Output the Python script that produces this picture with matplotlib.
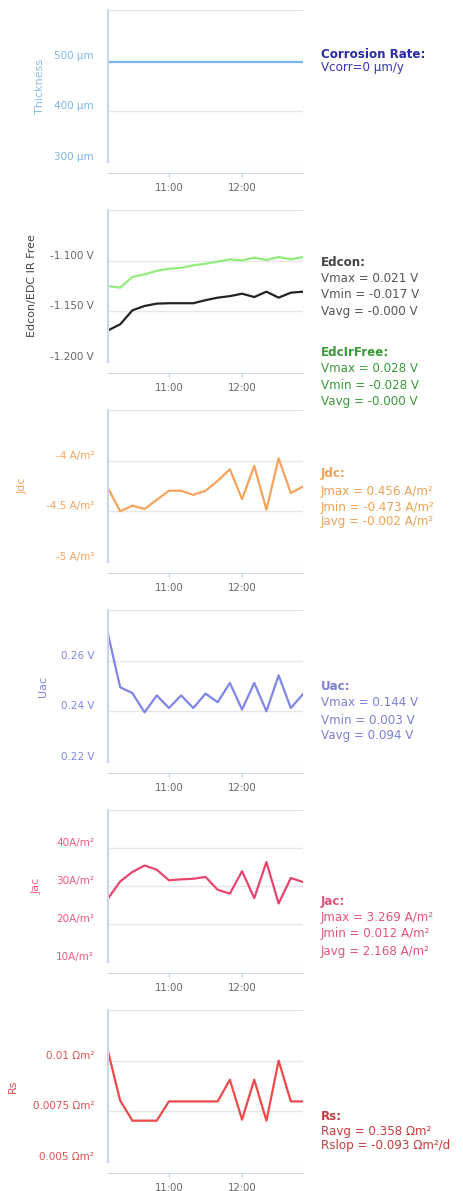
import numpy as np
import pandas as pd
import matplotlib
matplotlib.use('Agg')
import matplotlib.pyplot as plt
import matplotlib.dates as mdates

plt.rcParams['font.family'] = ['DejaVu Sans']

#=========== data ===========
time_labels = ['10:10', '10:20', '10:30', '10:40', '10:50', '11:00', '11:10', '11:20', '11:30',
               '11:40', '11:50', '12:00', '12:10', '12:20', '12:30', '12:40', '12:50']
times = pd.to_datetime(['2020-01-01 ' + t for t in time_labels])

thickness = [497, 497, 497, 497, 497, 497, 497, 497, 497, 497, 497, 497, 497, 497, 497, 497, 497]

edcon = [-1.1688, -1.1628, -1.149, -1.1447, -1.1424, -1.142, -1.142, -1.142, -1.139,
         -1.1365, -1.135, -1.1326, -1.1359, -1.1306, -1.1365, -1.1316, -1.1306]
edc_ir_free = [-1.125, -1.1266, -1.116, -1.1135, -1.110, -1.108, -1.107, -1.1046, -1.103,
               -1.101, -1.0987, -1.0997, -1.097, -1.0993, -1.0964, -1.0987, -1.0964]

jdc = [-4.271, -4.50, -4.444, -4.477, -4.386, -4.297, -4.297, -4.337, -4.297,
       -4.199, -4.085, -4.379, -4.052, -4.484, -3.977, -4.320, -4.255]

uac = [0.2705, 0.2495, 0.2472, 0.2396, 0.2463, 0.2413, 0.2463, 0.2413, 0.2470,
       0.2436, 0.2512, 0.2407, 0.2512, 0.2400, 0.2542, 0.2413, 0.2468]

jac = [26.7, 31.2, 33.7, 35.4, 34.3, 31.5, 31.75, 31.9, 32.4,
       29.0, 28.0, 33.9, 26.8, 36.3, 25.4, 32.1, 31.05]

rs = [0.01046, 0.00803, 0.00704, 0.00704, 0.00704, 0.00799, 0.00799, 0.00799, 0.00799,
      0.00799, 0.00906, 0.00709, 0.00906, 0.00704, 0.0100, 0.00799, 0.00799]

# y axes: tick values and labels (top tick unlabeled)
thick_ticks = [300, 400, 500, 600]
thick_labels = ['300 µm', '400 µm', '500 µm', '']
edc_ticks = [-1.2, -1.15, -1.1, -1.05]
edc_labels = ['-1.200 V', '-1.150 V', '-1.100 V', '']
jdc_ticks = [-5, -4.5, -4, -3.5]
jdc_labels = ['-5 A/m²', '-4.5 A/m²', '-4 A/m²', '']
uac_ticks = [0.22, 0.24, 0.26, 0.28]
uac_labels = ['0.22 V', '0.24 V', '0.26 V', '']
jac_ticks = [10, 20, 30, 40, 50]
jac_labels = ['10A/m²', '20A/m²', '30A/m²', '40A/m²', '']
rs_ticks = [0.005, 0.0075, 0.01, 0.0125]
rs_labels = ['0.005 Ωm²', '0.0075 Ωm²', '0.01 Ωm²', '']

# side texts
side_texts = [
    [('Corrosion Rate:', 54, '#2b2ba6', 'bold'), ('Vcorr=0 µm/y', 67, '#3535b0', 'normal')],
    [('Edcon:', 262, '#444444', 'bold'), ('Vmax = 0.021 V', 279, '#555555', 'normal'),
     ('Vmin = -0.017 V', 295, '#555555', 'normal'), ('Vavg = -0.000 V', 311, '#555555', 'normal'),
     ('EdcIrFree:', 353, '#3a9a3a', 'bold'), ('Vmax = 0.028 V', 369, '#3a9a3a', 'normal'),
     ('Vmin = -0.028 V', 385, '#3a9a3a', 'normal'), ('Vavg = -0.000 V', 401, '#3a9a3a', 'normal')],
    [('Jdc:', 474, '#f0a255', 'bold'), ('Jmax = 0.456 A/m²', 491, '#f0a255', 'normal'),
     ('Jmin = -0.473 A/m²', 507, '#f0a255', 'normal'), ('Javg = -0.002 A/m²', 522, '#f0a255', 'normal')],
    [('Uac:', 687, '#7d7fd6', 'bold'), ('Vmax = 0.144 V', 703, '#7d7fd6', 'normal'),
     ('Vmin = 0.003 V', 720, '#7d7fd6', 'normal'), ('Vavg = 0.094 V', 736, '#7d7fd6', 'normal')],
    [('Jac:', 901, '#e2557a', 'bold'), ('Jmax = 3.269 A/m²', 917, '#e2557a', 'normal'),
     ('Jmin = 0.012 A/m²', 934, '#e2557a', 'normal'), ('Javg = 2.168 A/m²', 951, '#e2557a', 'normal')],
    [('Rs:', 1116, '#c43c3c', 'bold'), ('Ravg = 0.358 Ωm²', 1131, '#c43c3c', 'normal'),
     ('Rslop = -0.093 Ωm²/d', 1146, '#c43c3c', 'normal')],
]

panels = [
    dict(series=[(thickness, '#7cb5ec')], ticks=thick_ticks, labels=thick_labels,
         title='Thickness', tcol='#8cbde8', lcol='#7cb5ec', tx=40),
    dict(series=[(edc_ir_free, '#90ed7d'), (edcon, '#222226')], ticks=edc_ticks, labels=edc_labels,
         title='Edcon/EDC IR Free', tcol='#444444', lcol='#666666', tx=32),
    dict(series=[(jdc, '#f7a35c')], ticks=jdc_ticks, labels=jdc_labels,
         title='Jdc', tcol='#f7a35c', lcol='#f7a35c', tx=23),
    dict(series=[(uac, '#8085e9')], ticks=uac_ticks, labels=uac_labels,
         title='Uac', tcol='#8085e9', lcol='#8085e9', tx=43),
    dict(series=[(jac, '#e8456e')], ticks=jac_ticks, labels=jac_labels,
         title='Jac', tcol='#f15c80', lcol='#f15c80', tx=37),
    dict(series=[(rs, '#ee4a4a')], ticks=rs_ticks, labels=rs_labels,
         title='Rs', tcol='#d9534f', lcol='#d9534f', tx=13),
]

W, H = 463, 1191
fig = plt.figure(figsize=(W / 100, H / 100), dpi=100)

x_left, x_right = 108, 303
axis_col = '#ccd6eb'

for i, p in enumerate(panels):
    top = 10 + 200 * i
    bottom = 162 + 200 * i
    ax = fig.add_axes([x_left / W, 1 - bottom / H, (x_right - x_left) / W, (bottom - top) / H])
    for vals, col in p['series']:
        ax.plot(times, vals, color=col, lw=1.6, solid_joinstyle='round')
    ax.set_xlim(times[0], times[-1])
    ax.set_ylim(p['ticks'][0], p['ticks'][-1])
    ax.set_yticks(p['ticks'])
    ax.set_yticklabels(p['labels'])
    for lab in ax.get_yticklabels():
        lab.set_verticalalignment('bottom')
    ax.grid(axis='y', color='#e6e6e6', lw=1)
    ax.set_axisbelow(True)
    ax.tick_params(axis='y', length=0, pad=10, labelsize=7.5, labelcolor=p['lcol'])

    ax.xaxis.set_major_locator(mdates.HourLocator())
    ax.xaxis.set_major_formatter(mdates.DateFormatter('%H:%M'))
    ax.tick_params(axis='x', length=3.6, color=axis_col, pad=3.5, labelsize=7.3, labelcolor='#666666')

    for s in ['top', 'right']:
        ax.spines[s].set_visible(False)
    ax.spines['left'].set_color(axis_col)
    ax.spines['left'].set_linewidth(1.5)
    ax.spines['bottom'].set_color(axis_col)
    ax.spines['bottom'].set_position(('outward', 8))

    ax.set_ylabel(p['title'], color=p['tcol'], fontsize=8)
    ax.yaxis.label.set_verticalalignment('center')
    ax.yaxis.set_label_coords((p['tx'] - x_left) / (x_right - x_left), 0.5)

    for txt, y, col, wt in side_texts[i]:
        fig.text(321 / W, 1 - y / H, txt, ha='left', va='center', color=col,
                 fontsize=8.6, fontweight=wt)

fig.savefig('out.png', dpi=100)
